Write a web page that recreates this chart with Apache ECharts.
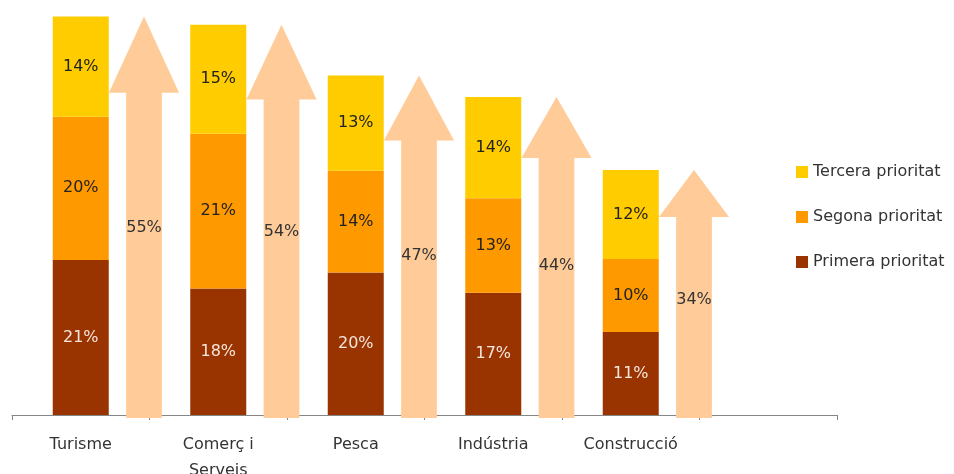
<!DOCTYPE html>
<html>
<head>
<meta charset="utf-8">
<script src="https://cdn.jsdelivr.net/npm/echarts@6/dist/echarts.min.js"></script>
<style>
html,body{margin:0;padding:0;background:#fff;}
#chart{width:954px;height:474px;}
</style>
</head>
<body>
<div id="chart"></div>
<script>
// Categories (last slot is an empty band on the axis)
const categories = ['Turisme', 'Comerç i\nServeis', 'Pesca', 'Indústria', 'Construcció', ''];
// Percentages per priority
const primera = [21.45, 17.5, 19.7, 16.93, 11.49];
const segona  = [19.83, 21.4, 14.08, 13.05, 10.1];
const tercera = [13.84, 15.1, 13.19, 14.02, 12.32];
const seriesNames = ['Primera prioritat', 'Segona prioritat', 'Tercera prioritat'];

const totals = primera.map((v, i) => v + segona[i] + tercera[i]);

const FONT = '"DejaVu Sans", sans-serif';
const chart = echarts.init(document.getElementById('chart'));

function barSeries(name, data, color, labelColor) {
  return {
    name: name,
    type: 'bar',
    stack: 'total',
    barWidth: 56,
    data: data,
    itemStyle: { color: color },
    label: {
      show: true,
      position: 'inside',
      color: labelColor,
      fontFamily: FONT,
      fontSize: 16,
      formatter: p => Math.round(p.value) + '%'
    },
    emphasis: { disabled: true }
  };
}

const option = {
  animation: false,
  backgroundColor: '#ffffff',
  grid: { left: 12, right: 117, top: 3, bottom: 59, containLabel: false, outerBoundsMode: 'none' },
  legend: {
    orient: 'vertical',
    left: 796,
    top: 164,
    padding: 0,
    itemWidth: 12,
    itemHeight: 12,
    itemGap: 29,
    icon: 'rect',
    data: [seriesNames[2], seriesNames[1], seriesNames[0]],
    textStyle: { fontFamily: FONT, fontSize: 16, color: '#333333' }
  },
  xAxis: {
    type: 'category',
    data: categories,
    axisLine: { lineStyle: { color: '#868686', width: 1 } },
    axisTick: { show: true, length: 5, lineStyle: { color: '#868686' } },
    axisLabel: {
      interval: 0,
      fontFamily: FONT,
      fontSize: 16,
      color: '#333333',
      margin: 17,
      lineHeight: 26
    },
    splitLine: { show: false }
  },
  yAxis: {
    type: 'value',
    min: 0,
    max: 57,
    show: false,
    splitLine: { show: false }
  },
  series: [
    barSeries(seriesNames[0], primera, '#993300', '#f6e6dc'),
    barSeries(seriesNames[1], segona, '#ff9900', '#222222'),
    barSeries(seriesNames[2], tercera, '#ffcc00', '#222222'),
    {
      name: 'Total',
      type: 'custom',
      coordinateSystem: 'cartesian2d',
      data: totals.map((t, i) => [i, t]),
      renderItem: function (params, api) {
        const idx = api.value(0);
        const total = api.value(1);
        const base = api.coord([idx, 0]);
        const top = api.coord([idx, total]);
        const band = api.size([1, 0])[0];
        const cx = base[0] + band * 0.46;
        const y0 = base[1] + 3;
        const y1 = top[1];
        const len = y0 - y1;
        const headH = len * 0.19;
        const sw = band * 0.26 / 2;
        const hw = band * 0.51 / 2;
        const labelPt = api.coord([idx, total * 0.47]);
        return {
          type: 'group',
          children: [
            {
              type: 'polygon',
              shape: {
                points: [
                  [cx - sw, y0], [cx + sw, y0], [cx + sw, y1 + headH],
                  [cx + hw, y1 + headH], [cx, y1], [cx - hw, y1 + headH],
                  [cx - sw, y1 + headH]
                ]
              },
              style: { fill: '#ffcc99' }
            },
            {
              type: 'text',
              style: {
                x: cx,
                y: labelPt[1],
                text: Math.round(total) + '%',
                fill: '#333333',
                font: '16px ' + FONT,
                align: 'center',
                verticalAlign: 'middle'
              }
            }
          ]
        };
      },
      silent: true
    }
  ]
};
chart.setOption(option);
</script>
</body>
</html>
